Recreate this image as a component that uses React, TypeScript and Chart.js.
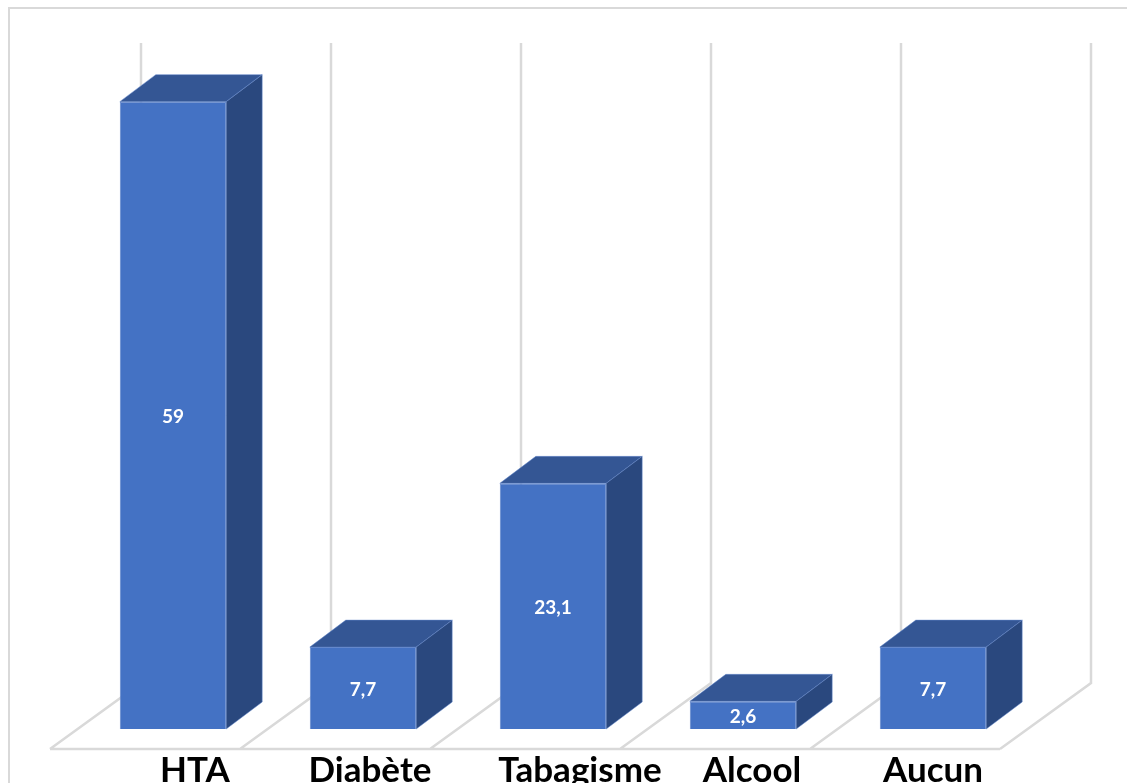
import React, { useEffect, useRef } from "react";
import { Chart, registerables } from "chart.js";

Chart.register(...registerables);

const categories = ["HTA", "Diabète", "Tabagisme", "Alcool", "Aucun"];
const percentages = [59, 7.7, 23.1, 2.6, 7.7];
// Horizontal nudge of each category label away from its bar centre.
const labelNudges = [22, 7, 27, 9, 0];

const FRONT = "#4472C4";
const TOP = "#345694";
const SIDE = "#2A487E";
const EDGE = "#6488CC";
const GRID = "#D9D9D9";
const INK = "#000000";

// Oblique projection of the column depth.
const DEPTH_X = 36;
const DEPTH_Y = 27;
// Offsets of the floor's front and back edges from the category scale.
const FLOOR_FRONT = { x: -28, y: 20 };
const FLOOR_BACK = { x: 63, y: -46 };
const WALL_RISE = 48;

const polygon = (ctx: CanvasRenderingContext2D, pts: number[][], fill: string) => {
  ctx.beginPath();
  pts.forEach(([x, y], i) => (i ? ctx.lineTo(x, y) : ctx.moveTo(x, y)));
  ctx.closePath();
  ctx.fillStyle = fill;
  ctx.fill();
  ctx.strokeStyle = EDGE;
  ctx.lineWidth = 0.5;
  ctx.stroke();
};

const perspective = {
  id: "perspective",
  beforeDatasetsDraw(chart: Chart) {
    const { ctx, scales } = chart;
    const x = scales.x;
    const y = scales.y;
    const step = x.getPixelForValue(1) - x.getPixelForValue(0);
    const first = x.getPixelForValue(0) - step / 2;
    const floorY = y.getPixelForValue(0);

    ctx.save();
    // Chart frame
    ctx.strokeStyle = GRID;
    ctx.lineWidth = 2;
    ctx.beginPath();
    ctx.moveTo(9, chart.height);
    ctx.lineTo(9, 8);
    ctx.lineTo(chart.width, 8);
    ctx.stroke();

    // Floor edges and back-wall gridlines
    ctx.lineWidth = 2.5;
    ctx.beginPath();
    for (let i = 0; i <= categories.length; i++) {
      const px = first + i * step;
      ctx.moveTo(px + FLOOR_FRONT.x, floorY + FLOOR_FRONT.y);
      ctx.lineTo(px + FLOOR_BACK.x, floorY + FLOOR_BACK.y);
      ctx.lineTo(px + FLOOR_BACK.x, y.top - WALL_RISE);
    }
    ctx.moveTo(first + FLOOR_FRONT.x, floorY + FLOOR_FRONT.y);
    ctx.lineTo(first + categories.length * step + FLOOR_FRONT.x, floorY + FLOOR_FRONT.y);
    ctx.stroke();

    // Top and side faces of every column
    chart.getDatasetMeta(0).data.forEach((bar: any) => {
      const { x: cx, y: topY, base, width } = bar.getProps(["x", "y", "base", "width"], true);
      const l = cx - width / 2;
      const r = cx + width / 2;
      polygon(ctx, [[l, topY], [l + DEPTH_X, topY - DEPTH_Y], [r + DEPTH_X, topY - DEPTH_Y], [r, topY]], TOP);
      polygon(ctx, [[r, topY], [r + DEPTH_X, topY - DEPTH_Y], [r + DEPTH_X, base - DEPTH_Y], [r, base]], SIDE);
    });
    ctx.restore();
  },
  afterDatasetsDraw(chart: Chart) {
    const { ctx, scales } = chart;
    const meta = chart.getDatasetMeta(0);
    ctx.save();
    ctx.textAlign = "center";
    ctx.textBaseline = "middle";

    // Value labels, decimal comma
    ctx.fillStyle = "#FFFFFF";
    ctx.font = "bold 19px Lato";
    meta.data.forEach((bar: any, i: number) => {
      const { x: cx, y: topY, base } = bar.getProps(["x", "y", "base"], true);
      ctx.fillText(String(percentages[i]).replace(".", ","), cx, (topY + base) / 2 + 2);
    });

    // Category labels
    ctx.fillStyle = INK;
    ctx.font = "bold 35px Lato";
    ctx.textBaseline = "alphabetic";
    categories.forEach((label, i) => {
      ctx.fillText(label, scales.x.getPixelForValue(i) + labelNudges[i], 782);
    });
    ctx.restore();
  },
};

export default function App() {
  const ref = useRef<HTMLCanvasElement>(null);

  useEffect(() => {
    const chart = new Chart(ref.current!, {
      type: "bar",
      data: {
        labels: categories,
        datasets: [
          {
            data: percentages,
            backgroundColor: FRONT,
            borderColor: EDGE,
            borderWidth: 1,
            categoryPercentage: 1,
            barPercentage: 0.56,
          },
        ],
      },
      options: {
        animation: false,
        responsive: false,
        layout: { padding: { left: 78, right: 99, top: 91, bottom: 54 } },
        plugins: { legend: { display: false }, tooltip: { enabled: false } },
        scales: {
          x: { display: false },
          y: { display: false, min: 0, max: 60 },
        },
      },
      plugins: [perspective],
    });
    return () => chart.destroy();
  }, []);

  return (
    <div style={{ position: "fixed", left: 0, top: 0, width: 1127, height: 783, overflow: "hidden", background: "#fff" }}>
      <canvas ref={ref} width={1127} height={783} style={{ display: "block" }} />
    </div>
  );
}
